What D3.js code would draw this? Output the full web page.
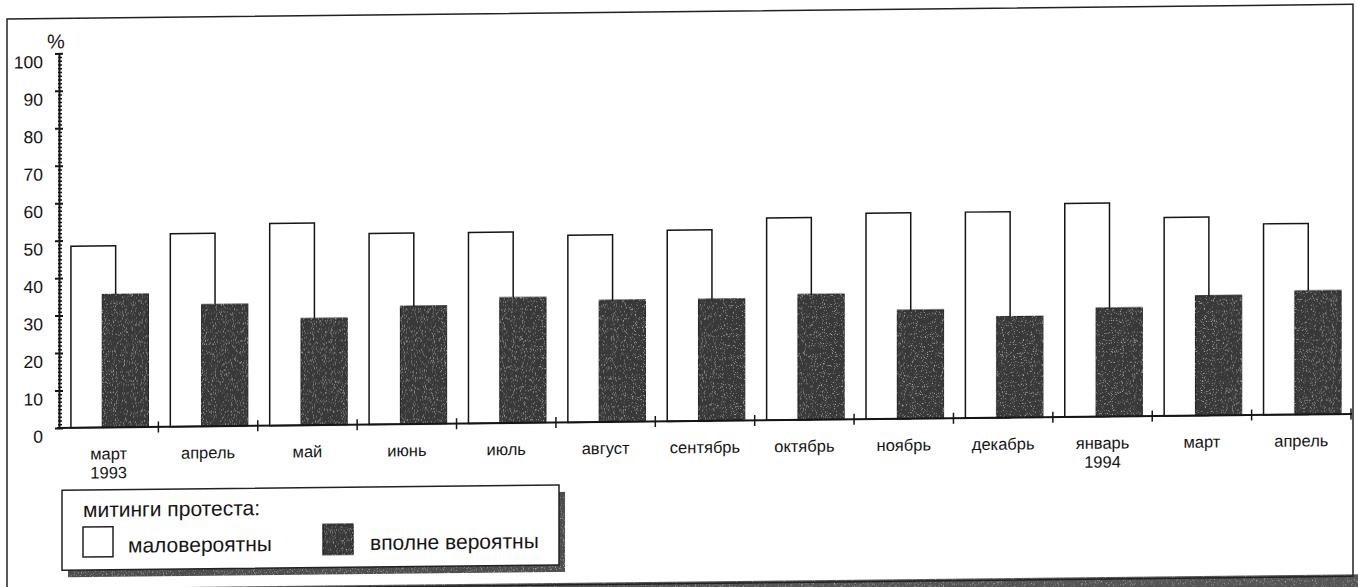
<!DOCTYPE html>
<html>
<head>
<meta charset="utf-8">
<script src="https://cdn.jsdelivr.net/npm/d3@7"></script>
<style>
body { margin: 0; background: #fff; }
text { font-family: "Liberation Sans", Arial, sans-serif; fill: #151515; }
</style>
</head>
<body>
<div id="chart"></div>
<script>
// months of the survey (two-line labels where the year is shown)
var months = [["март", "1993"], ["апрель"], ["май"], ["июнь"], ["июль"], ["август"],
    ["сентябрь"], ["октябрь"], ["ноябрь"], ["декабрь"], ["январь", "1994"], ["март"], ["апрель"]];
// protest meetings: unlikely (white) / quite likely (dark), %
var unlikely = [48.5, 51.5, 54, 51, 51, 50, 51, 54, 55, 55, 57, 53, 51];
var likely = [35.5, 32.5, 28.5, 31.5, 33.5, 32.5, 32.5, 33.5, 29, 27, 29, 32, 33];
var yTicks = [0, 10, 20, 30, 40, 50, 60, 70, 80, 90, 100];
var legendTitle = "митинги протеста:";
var seriesNames = ["маловероятны", "вполне вероятны"];

var width = 1358;
var height = 587;
var dark = "#393939";

var svg = d3.select("#chart").append("svg")
    .attr("width", width)
    .attr("height", height);

// faint speckle, like the halftone of the print
var grain = svg.append("defs").append("filter").attr("id", "grain");
grain.append("feTurbulence")
    .attr("type", "fractalNoise").attr("baseFrequency", 0.9)
    .attr("numOctaves", 2).attr("seed", 3).attr("result", "noise");
grain.append("feColorMatrix")
    .attr("in", "noise").attr("type", "matrix")
    .attr("values", "0 0 0 0 0.55  0 0 0 0 0.55  0 0 0 0 0.55  0 0 0 -3.2 1.25")
    .attr("result", "specks");
grain.append("feComposite")
    .attr("in", "specks").attr("in2", "SourceGraphic")
    .attr("operator", "in").attr("result", "clipped");
var merge = grain.append("feMerge");
merge.append("feMergeNode").attr("in", "SourceGraphic");
merge.append("feMergeNode").attr("in", "clipped");

svg.append("rect").attr("width", width).attr("height", height).attr("fill", "#fff");

// the scanned page is slightly skewed
var page = svg.append("g").attr("transform", "skewY(-0.62)");

// outer frame with heavy bottom edge
page.append("rect")
    .attr("x", 6).attr("y", 589)
    .attr("width", 1362).attr("height", 16)
    .attr("fill", "#555")
    .attr("filter", "url(#grain)");
page.append("rect")
    .attr("x", 7).attr("y", 19)
    .attr("width", 1346).attr("height", 572)
    .attr("fill", "none")
    .attr("stroke", "#222")
    .attr("stroke-width", 1.5);

var x = d3.scaleBand().domain(d3.range(months.length)).range([59, 1351]);
var y = d3.scaleLinear().domain([0, 100]).range([428.6, 54]);
var bw = x.bandwidth();

// white bars
page.append("g").selectAll("rect").data(unlikely).enter().append("rect")
    .attr("x", function (d, i) { return x(i) + bw * 0.12; })
    .attr("width", bw * 0.45)
    .attr("y", function (d) { return y(d); })
    .attr("height", function (d) { return y(0) - y(d); })
    .attr("fill", "#fff")
    .attr("stroke", "#151515")
    .attr("stroke-width", 1.5);

// dark bars
page.append("g").selectAll("rect").data(likely).enter().append("rect")
    .attr("x", function (d, i) { return x(i) + bw * 0.435; })
    .attr("width", bw * 0.465)
    .attr("y", function (d) { return y(d); })
    .attr("height", function (d) { return y(0) - y(d); })
    .attr("fill", dark)
    .attr("stroke", "#1e1e1e")
    .attr("stroke-width", 1)
    .attr("filter", "url(#grain)");

// y axis
var yAxis = page.append("g")
    .attr("transform", "translate(59,0)")
    .call(d3.axisLeft(y).tickValues(yTicks).tickSize(4).tickSizeOuter(0).tickPadding(12));
yAxis.select(".domain").attr("stroke", "#151515").attr("stroke-width", 2);
yAxis.selectAll(".tick line").attr("x1", 4).attr("stroke", "#151515").attr("stroke-width", 2);
yAxis.selectAll(".tick text")
    .attr("y", 8.5)
    .style("font-size", "17.5px")
    .style("font-family", "'Liberation Sans', Arial, sans-serif")
    .attr("fill", "#151515");

var minor = page.append("g")
    .attr("transform", "translate(59,0)")
    .call(d3.axisRight(y).tickValues(d3.range(0, 101).filter(function (v) { return v % 10; }))
        .tickSize(3).tickFormat(""));
minor.select(".domain").remove();
minor.selectAll(".tick line").attr("x1", -1).attr("stroke", "#151515").attr("stroke-width", 1.5);

page.append("text")
    .attr("x", 56).attr("y", 49)
    .attr("text-anchor", "middle")
    .style("font-size", "20px")
    .text("%");

// x axis
page.append("line")
    .attr("x1", 57).attr("x2", x.range()[1] + 1)
    .attr("y1", y(0)).attr("y2", y(0))
    .attr("stroke", "#151515").attr("stroke-width", 2);

page.append("g").selectAll("line").data(d3.range(1, months.length + 1)).enter().append("line")
    .attr("x1", function (i) { return x.range()[0] + i * x.step(); })
    .attr("x2", function (i) { return x.range()[0] + i * x.step(); })
    .attr("y1", y(0) - 5.5).attr("y2", y(0) + 5.5)
    .attr("stroke", "#151515").attr("stroke-width", 1.5);

var labels = page.append("g").selectAll("text").data(months).enter().append("text")
    .attr("x", function (d, i) { return x(i) + bw / 2; })
    .attr("y", y(0) + 32)
    .attr("text-anchor", "middle")
    .style("font-size", "16.5px");
labels.selectAll("tspan").data(function (d) { return d; }).enter().append("tspan")
    .attr("x", function () { return this.parentNode.getAttribute("x"); })
    .attr("dy", function (d, j) { return j ? 19 : 0; })
    .text(function (d) { return d; });

// legend
var legend = page.append("g");
legend.append("rect")
    .attr("x", 68).attr("y", 498)
    .attr("width", 497).attr("height", 80)
    .attr("fill", "#4d4d4d")
    .attr("filter", "url(#grain)");
legend.append("rect")
    .attr("x", 62).attr("y", 491)
    .attr("width", 497).attr("height", 80)
    .attr("fill", "#fff")
    .attr("stroke", "#222").attr("stroke-width", 1.5);
legend.append("text")
    .attr("x", 83).attr("y", 518)
    .style("font-size", "21px")
    .text(legendTitle);

var swatches = [{x: 83, fill: "#fff", tx: 128}, {x: 323, fill: dark, tx: 370}];
swatches.forEach(function (s, i) {
    legend.append("rect")
        .attr("x", s.x).attr("y", 528)
        .attr("width", 30).attr("height", 30)
        .attr("fill", s.fill)
        .attr("stroke", "#222").attr("stroke-width", 1.5)
        .attr("filter", i ? "url(#grain)" : null);
    legend.append("text")
        .attr("x", s.tx).attr("y", 554)
        .style("font-size", "21px")
        .text(seriesNames[i]);
});
</script>
</body>
</html>
